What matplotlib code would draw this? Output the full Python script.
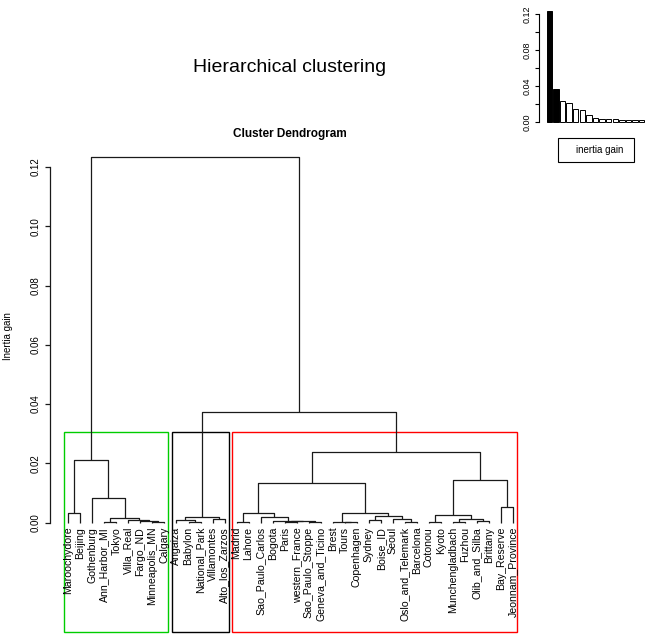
import matplotlib
matplotlib.use('Agg')
import matplotlib.pyplot as plt
from matplotlib.patches import Rectangle

plt.rcParams['font.family'] = ['Liberation Sans', 'DejaVu Sans']

# ---------------- data ----------------
green_leaves = ['Maroochydore', 'Beijing', 'Gothenburg', 'Ann_Harbor_MI', 'Tokyo',
                'Villa_Real', 'Fargo_ND', 'Minneapolis_MN', 'Calgary']
black_leaves = ['Angaiza', 'Babylon', 'National_Park', 'Villamontes', 'Alto_los_Zarzos']
red_leaves = ['Madrid', 'Lahore', 'Sao_Paulo_Carlos', 'Bogota', 'Paris', 'western_France',
              'Sao_Paulo_Stoppe', 'Geneva_and_Ticino', 'Brest', 'Tours', 'Copenhagen',
              'Sydney', 'Boise_ID', 'Seoul', 'Oslo_and_Telemark', 'Barcelona', 'Cotonou',
              'Kyoto', 'Munchengladbach', 'Fuzhou', 'Olib_and_Silba', 'Brittany',
              'Bay_Reserve', 'Jeonnam_Province']

# merges: (height, left, right)
green_tree = (0.0211, (0.0032, 'Maroochydore', 'Beijing'),
              (0.0082, 'Gothenburg',
               (0.0015, (0.0004, 'Ann_Harbor_MI', 'Tokyo'),
                (0.0009, 'Villa_Real',
                 (0.0006, 'Fargo_ND', (0.0002, 'Minneapolis_MN', 'Calgary'))))))
black_tree = (0.0020, (0.0008, 'Angaiza', (0.0002, 'Babylon', 'National_Park')),
              (0.0012, 'Villamontes', 'Alto_los_Zarzos'))
red_left_a = (0.0034, (0.0001, 'Madrid', 'Lahore'),
              (0.0020, 'Sao_Paulo_Carlos',
               (0.0007, 'Bogota',
                (0.0005, (0.0002, 'Paris', 'western_France'),
                 (0.0002, 'Sao_Paulo_Stoppe', 'Geneva_and_Ticino')))))
red_left_b = (0.0034, (0.0001, 'Brest', (0.0001, 'Tours', 'Copenhagen')),
              (0.0023, (0.0009, 'Sydney', 'Boise_ID'),
               (0.0011, 'Seoul', (0.0001, 'Oslo_and_Telemark', 'Barcelona'))))
red_right = (0.0144, (0.0026, (0.0001, 'Cotonou', 'Kyoto'),
                      (0.0012, (0.0001, 'Munchengladbach', 'Fuzhou'),
                       (0.0005, 'Olib_and_Silba', 'Brittany'))),
             (0.0052, 'Bay_Reserve', 'Jeonnam_Province'))
red_tree = (0.0238, (0.0135, red_left_a, red_left_b), red_right)
black_red_height = 0.0373
top_height = 0.1233

cluster_colors = ['#00CD00', '#000000', '#FF0000']

gain_values = [0.123, 0.037, 0.024, 0.021, 0.0145, 0.0135, 0.0082, 0.0052,
               0.0034, 0.0033, 0.0032, 0.0030, 0.0029, 0.0028, 0.0027]
gain_colors = ['black', 'black'] + ['white'] * 13

# ---------------- figure ----------------
W, H = 665, 636
fig = plt.figure(figsize=(W / 100, H / 100), dpi=100)
fig.patch.set_facecolor('white')

# main dendrogram axes (pixel layout)
x_left_px, x_right_px = 50.27, 519.05
y0_px = 522.7
px_per_unit = 59.3 / 0.02
ytop = 0.125
ax = fig.add_axes([x_left_px / W, (H - y0_px) / H,
                   (x_right_px - x_left_px) / W, ytop * px_per_unit / H])
ax.set_xlim(-0.5, 38.5)
ax.set_ylim(0, ytop)

leaves = green_leaves + black_leaves + red_leaves
pos = {name: i + 1 for i, name in enumerate(leaves)}

LC = '#1a1a1a'
LW = 0.9


def draw(node):
    if isinstance(node, str):
        return pos[node], 0.0
    h, a, b = node
    xa, ha = draw(a)
    xb, hb = draw(b)
    ax.plot([xa, xa, xb, xb], [ha, h, h, hb], color=LC, lw=LW,
            solid_capstyle='butt', clip_on=False)
    return (xa + xb) / 2, h


full_tree = (top_height, green_tree, (black_red_height, black_tree, red_tree))
draw(full_tree)

for name in leaves:
    ax.annotate(name, (pos[name], 0), xytext=(0, -3), textcoords='offset points',
                rotation=90, ha='center', va='top', fontsize=7.6, color='black',
                annotation_clip=False)

# cluster rectangles (R rect.hclust style)
rect_top = (black_red_height + red_tree[0]) / 2
rect_bottom = -(632 - y0_px) / px_per_unit
start = 0
for leaves_k, col in zip([green_leaves, black_leaves, red_leaves], cluster_colors):
    n = len(leaves_k)
    x0 = start + 0.66
    x1 = start + n + 0.33
    ax.add_patch(Rectangle((x0, rect_bottom), x1 - x0, rect_top - rect_bottom,
                           fill=False, ec=col, lw=1.0, clip_on=False))
    start += n

for s in ['top', 'right', 'bottom']:
    ax.spines[s].set_visible(False)
ax.spines['left'].set_bounds(0, 0.12)
ax.spines['left'].set_linewidth(0.9)
ax.spines['left'].set_color(LC)
ax.set_xticks([])
yt = [0, 0.02, 0.04, 0.06, 0.08, 0.10, 0.12]
ax.set_yticks(yt)
ax.set_yticklabels(['%.2f' % v for v in yt], rotation=90, va='center')
ax.tick_params(axis='y', length=3.8, width=0.9, labelsize=7, pad=3, color=LC)

fig.text(8 / W, 1 - 336 / H, 'Inertia gain', rotation=90, ha='center', va='center',
         fontsize=7)
fig.text(290 / W, 1 - 68 / H, 'Hierarchical clustering', ha='center', va='center',
         fontsize=14)
fig.text(290 / W, 1 - 134 / H, 'Cluster Dendrogram', ha='center', va='center',
         fontsize=8.5, fontweight='bold')

# ---------------- inset bar chart ----------------
ins_left = 539.3
ins_bottom = 122.3
ins_ppu = 108.3 / 0.12
bar_step = 6.6
x_lo = -10 / bar_step
x_hi = len(gain_values) - 1 + 0.6
axi = fig.add_axes([ins_left / W, (H - ins_bottom) / H,
                    (x_hi - x_lo) * bar_step / W, 0.125 * ins_ppu / H])
axi.set_xlim(x_lo, x_hi)
axi.set_ylim(0, 0.125)
axi.bar(range(len(gain_values)), gain_values, width=0.83, color=gain_colors,
        edgecolor='black', linewidth=0.7, clip_on=False)
for s in ['top', 'right', 'bottom']:
    axi.spines[s].set_visible(False)
axi.spines['left'].set_bounds(0, 0.12)
axi.spines['left'].set_linewidth(0.8)
axi.set_xticks([])
yt2 = [0, 0.02, 0.04, 0.06, 0.08, 0.10, 0.12]
axi.set_yticks(yt2)
axi.set_yticklabels(['%.2f' % v if i % 2 == 0 else '' for i, v in enumerate(yt2)],
                    rotation=90, va='center')
axi.tick_params(axis='y', length=3.2, width=0.8, labelsize=6.5, pad=2)
axi.patch.set_alpha(0)

# legend box
fig.patches.append(Rectangle((557.7 / W, 1 - 162.3 / H), 76.3 / W, 24 / H,
                             transform=fig.transFigure, fill=False, ec='black',
                             lw=0.8))
fig.text(600 / W, 1 - 150 / H, 'inertia gain', ha='center', va='center', fontsize=7)

fig.savefig('out.png', dpi=100, facecolor='white')
